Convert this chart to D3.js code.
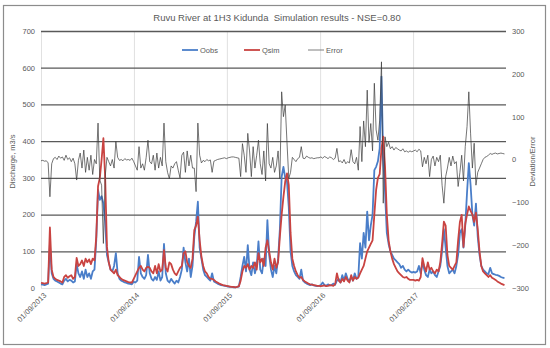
<!DOCTYPE html>
<html>
<head>
<meta charset="utf-8">
<script src="https://cdn.jsdelivr.net/npm/d3@7"></script>
<style>
  body { margin: 0; background: #fff; }
  text { font-family: "Liberation Sans", Arial, sans-serif; fill: #595959; }
</style>
</head>
<body>
<div id="chart"></div>
<script>
// weekly readings starting 01/09/2013
var startDate = new Date(2013, 8, 1);
var stepDays = 7;

var qobs = [
  10, 9, 8, 10, 12, 120, 40, 25, 20, 18, 15, 12, 10,
  20, 25, 18, 22, 20, 15, 18, 65, 40,
  30, 45, 25, 50, 30, 40, 25, 45, 50,
  130, 267, 240, 250, 230, 180, 90, 70, 50, 45, 60, 95, 40,
  25, 20, 18, 15, 14, 12, 11, 10,
  // 2014-15
  17, 15, 20, 85, 40, 30, 25, 35, 90,
  40, 25, 20, 30, 22, 45, 20, 30, 120, 40,
  20, 15, 25, 18, 12, 20, 15, 30, 50, 110, 70, 45, 80, 30, 60,
  140, 180, 235, 110, 80, 50, 35, 30, 25, 20, 40,
  18, 15, 12, 10, 8, 7, 6,
  // 2015-16
  5, 4, 3, 3, 2, 2, 3, 4, 30, 60, 85, 45, 117, 50,
  35, 70, 40, 60, 127, 50, 40, 80, 60, 185, 90,
  50, 30, 60, 40, 80, 160, 303, 330, 300, 290, 220, 100, 60,
  45, 35, 30, 25, 50, 20, 15, 12, 10, 8, 10, 7, 6, 5,
  // 2016-17
  6, 8, 15, 8, 6, 10, 7, 8, 12, 9, 20,
  25, 15, 35, 20, 40, 25, 18, 30, 20, 40, 25, 30,
  122, 80, 150, 110, 208, 130, 170, 200,
  321, 330, 345, 380, 576, 350,
  260, 150, 120, 100, 90, 80, 75, 70, 65, 55, 60, 50, 45, 50, 45, 42,
  // 2017-18
  44, 42, 45, 60, 40, 70, 50,
  35, 30, 50, 40, 45, 35, 30, 45, 60,
  100, 160, 110, 60, 40, 45, 50, 40, 60,
  90, 150, 160, 110, 170, 260, 340, 280, 200, 170, 230, 140, 90,
  60, 50, 45, 40, 38, 55, 40, 38, 36, 35, 33, 30, 28, 27
];

var qsim = [
  14, 13, 12, 13, 15, 165, 50, 30, 25, 22, 20, 18, 15,
  30, 35, 28, 32, 35, 25, 30, 82, 60,
  65, 75, 60, 80, 70, 78, 65, 80, 75,
  140, 277, 300, 350, 408, 300, 112, 70, 50, 45, 40, 50, 35,
  30, 25, 22, 20, 18, 16, 15, 15,
  // 2014-15
  25, 35, 45, 55, 60, 50, 45, 55, 58,
  55, 45, 40, 60, 40, 65, 45, 50, 103, 55,
  45, 70, 65, 50, 40, 35, 45, 55, 60, 95, 100, 70, 60, 55, 80,
  158, 170, 194, 130, 85, 60, 45, 40, 30, 25, 25,
  22, 18, 15, 12, 10, 8, 7,
  // 2015-16
  6, 5, 4, 3, 3, 2, 3, 5, 20, 45, 60, 55, 65, 50,
  60, 55, 70, 50, 95, 70, 80, 60, 110, 130, 100,
  70, 50, 80, 55, 70, 140, 200, 248, 290, 312, 280, 150, 80,
  60, 45, 35, 28, 30, 22, 18, 15, 12, 10, 9, 8, 7, 6,
  // 2016-17
  6, 5, 6, 7, 5, 6, 8, 7, 6, 10, 40,
  20, 15, 25, 18, 30, 20, 15, 35, 20, 30, 25, 28,
  40, 50, 60, 80, 100, 110, 120, 130,
  200, 267, 300, 310, 380, 412,
  330, 200, 130, 100, 80, 65, 55, 45, 40, 35, 30, 28, 30, 25, 22, 22,
  // 2017-18
  22, 20, 22, 20, 30, 81, 60,
  45, 70, 50, 55, 45, 40, 50, 45, 70,
  120, 181, 170, 90, 60, 55, 50, 60, 70,
  130, 180, 199, 112, 175, 200, 222, 210, 200, 180, 205, 160, 100,
  60, 45, 40, 35, 30, 35, 28, 25, 22, 18, 15, 12, 10, 8
];

var errs = [
  -3, -2, -4, -3, -8, -87, -10, 2, 5, 0, 8, 3, 6,
  -2, 10, 0, 4, -5, 3, -10, -48, -2,
  15, -20, 22, -30, 5, -25, 10, -35, 0,
  -10, 85, -48, -60, -196, -40, 5, -5, -15, 0, -20, 42, 5,
  -2, 0, -3, 2, -1, 0, -2, 3,
  // 2014-15
  -5, -15, -25, 30, -20, -10, -25, 5, 45,
  -5, -10, 10, -25, 15, -20, 5, -15, 85, -5,
  -30, -45, -15, -20, -10, -5, -25, -43, 10, 17, -30, 20, -15, 10, -20,
  -20, -75, 85, 10, -8, -2, -5, 0, -3, -1, -30,
  -4, -2, 0, 1, 2, 3, 4,
  // 2015-16
  2, 4, 5, 6, 6, 5, 4, 3, -40, 37, 10, -30, 61, 20,
  -40, 30, -20, 10, 45, -10, -35, 20, -50, 84, -10,
  -20, 5, -30, -15, 20, -45, 158, 100, 127, 40, -44, -30, 5,
  0, -5, 2, 5, 30, 3, 2, 8, 5, 3, 4, 2, 3, 4,
  // 2016-17
  4, 6, 3, 7, 5, 2, 6, 4, 0, 3, 26,
  -5, -3, -8, 0, -10, -5, -8, 23, -5, -10, 5, -25,
  77, -5, 90, 30, 162, 40, 84, 20,
  178, 69, 45, 92, 228, -102,
  53, 30, 40, 25, 30, 22, 28, 25, 22, 20, 25, 18, 20, 17, 20, 18,
  // 2017-18
  20, 22, 18, 24, 20, -17, 5,
  -10, 10, -40, 0, 8, -15, 5, -5, 10,
  -60, -102, -40, -20, 5, -15, 8, -10, -5,
  -63, -30, 10, -50, 30, 77, 158, 60, -20, 38, -60, -30, -20,
  -10, 0, 5, 7, 10, 14, 12, 14, 15, 13, 14, 15, 14, 13
];

var leftTicks = [0, 100, 200, 300, 400, 500, 600, 700];
var rightTicks = [-300, -200, -100, 0, 100, 200, 300];
var yearTicks = [2013, 2014, 2015, 2016, 2017];

var svgWidth = 550;
var svgHeight = 348;
var plot = { left: 41, right: 506, top: 31, bottom: 288 };

var svg = d3.select("#chart")
  .append("svg")
  .attr("width", svgWidth)
  .attr("height", svgHeight);

// outer frame
svg.append("rect")
  .attr("x", 3.5).attr("y", 5.5)
  .attr("width", 542).attr("height", 339)
  .attr("fill", "#fff")
  .attr("stroke", "#8c8c8c")
  .attr("stroke-width", 1.2);

var dates = qobs.map((d, i) => d3.timeDay.offset(startDate, i * stepDays));

var x = d3.scaleTime()
  .domain([startDate, new Date(2018, 8, 1)])
  .range([plot.left, plot.right]);

var yLeft = d3.scaleLinear().domain([0, 700]).range([plot.bottom, plot.top]);
var yRight = d3.scaleLinear().domain([-300, 300]).range([plot.bottom, plot.top]);

var tickDates = yearTicks.map(y => new Date(y, 8, 1));

// vertical grid
svg.append("g")
  .attr("transform", `translate(0, ${plot.bottom})`)
  .call(d3.axisBottom(x).tickValues(tickDates).tickSize(-(plot.bottom - plot.top)).tickFormat(""))
  .call(g => g.select(".domain").remove())
  .call(g => g.selectAll("line").attr("stroke", "#d9d9d9").attr("stroke-width", 0.8));

// horizontal grid
svg.append("g")
  .attr("transform", `translate(${plot.left}, 0)`)
  .call(d3.axisLeft(yLeft).tickValues(leftTicks).tickSize(-(plot.right - plot.left)).tickFormat(""))
  .call(g => g.select(".domain").remove())
  .call(g => g.selectAll(".tick line")
    .attr("stroke", d => d === 0 ? "#d9d9d9" : "#595959")
    .attr("stroke-width", d => d === 0 ? 0.8 : 1.3));

// left axis labels
svg.append("g")
  .attr("transform", `translate(${plot.left - 6}, 0)`)
  .call(d3.axisLeft(yLeft).tickValues(leftTicks).tickSize(0))
  .call(g => g.select(".domain").remove())
  .call(g => g.selectAll("text").attr("x", 0).attr("font-size", 7.5).style("font-family", "Liberation Sans, Arial"));

// right axis labels
svg.append("g")
  .attr("transform", `translate(${plot.right + 6}, 0)`)
  .call(d3.axisRight(yRight).tickValues(rightTicks).tickSize(0))
  .call(g => g.select(".domain").remove())
  .call(g => g.selectAll("text").attr("x", 0).attr("font-size", 7.5).style("font-family", "Liberation Sans, Arial"));

// date labels
var fmt = d3.timeFormat("%d/%m/%Y");
svg.append("g")
  .selectAll("text")
  .data(tickDates)
  .enter()
  .append("text")
  .attr("transform", d => `translate(${x(d) + 4}, ${plot.bottom + 6}) rotate(-45)`)
  .attr("text-anchor", "end")
  .attr("dy", "0.35em")
  .attr("font-size", 7.5)
  .text(d => fmt(d));

// series lines
var lineLeft = key => d3.line()
  .x((d, i) => x(dates[i]))
  .y(d => yLeft(d));

svg.append("path")
  .datum(qobs)
  .attr("fill", "none")
  .attr("stroke", "#4a7ec9")
  .attr("stroke-width", 1.8)
  .attr("stroke-linejoin", "round")
  .attr("d", lineLeft());

svg.append("path")
  .datum(qsim)
  .attr("fill", "none")
  .attr("stroke", "#c94341")
  .attr("stroke-width", 1.8)
  .attr("stroke-linejoin", "round")
  .attr("d", lineLeft());

svg.append("path")
  .datum(errs)
  .attr("fill", "none")
  .attr("stroke", "#3a3a3a")
  .attr("stroke-width", 0.7)
  .attr("d", d3.line().x((d, i) => x(dates[i])).y(d => yRight(d)));

// title
svg.append("text")
  .attr("x", 277)
  .attr("y", 21)
  .attr("text-anchor", "middle")
  .attr("font-size", 9.5)
  .text("Ruvu River at 1H3 Kidunda  Simulation results - NSE=0.80")
  .style("white-space", "pre");

// axis titles
svg.append("text")
  .attr("transform", `translate(15, ${(plot.top + plot.bottom) / 2 + 2}) rotate(-90)`)
  .attr("text-anchor", "middle")
  .attr("font-size", 7.5)
  .text("Discharge, m3/s");

svg.append("text")
  .attr("transform", `translate(535, ${(plot.top + plot.bottom) / 2 + 2}) rotate(-90)`)
  .attr("text-anchor", "middle")
  .attr("font-size", 7.5)
  .text("Deviation/Error");

// legend
var legendItems = [
  { name: "Oobs", color: "#4a7ec9", width: 1.8, x: 182 },
  { name: "Qsim", color: "#c94341", width: 1.8, x: 244 },
  { name: "Error", color: "#7f7f7f", width: 1, x: 308 }
];
var legend = svg.append("g");
legendItems.forEach(function(item) {
  legend.append("line")
    .attr("x1", item.x).attr("x2", item.x + 16)
    .attr("y1", 50).attr("y2", 50)
    .attr("stroke", item.color)
    .attr("stroke-width", item.width);
  legend.append("text")
    .attr("x", item.x + 18)
    .attr("y", 50)
    .attr("dy", "0.35em")
    .attr("font-size", 7.5)
    .text(item.name);
});
</script>
</body>
</html>
